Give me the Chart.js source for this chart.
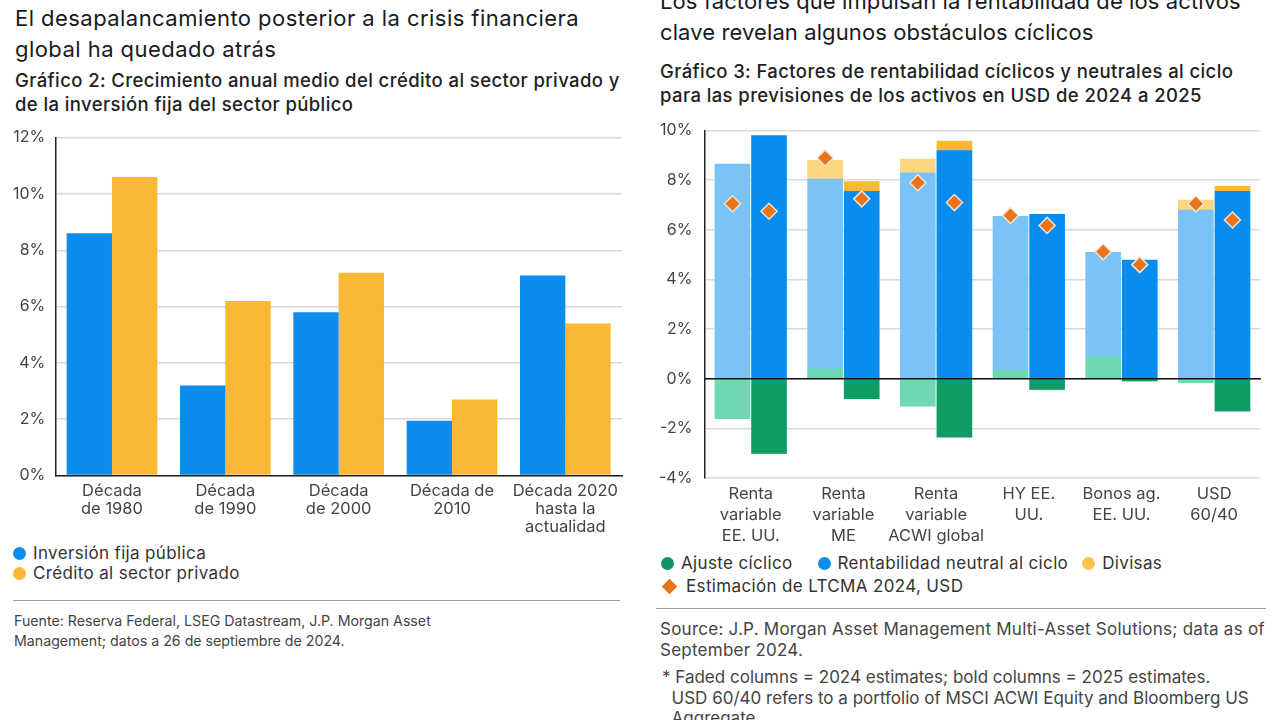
<!DOCTYPE html>
<html lang="es">
<head>
<meta charset="utf-8">
<script src="https://cdn.jsdelivr.net/npm/chart.js@4"></script>
<style>
  body { margin: 0; width: 1280px; height: 720px; overflow: hidden; background: #fff;
         font-family: Inter, sans-serif; color: #1c1c1c; position: relative; }
  .abs { position: absolute; white-space: nowrap; }
  .title { font-size: 22px; line-height: 31px; color: #1a1a1a; letter-spacing: 0.45px; }
  .sub { font-size: 18.5px; line-height: 24px; font-weight: 500; color: #222; letter-spacing: 0.4px; }
  .leg { font-size: 17px; color: #333; letter-spacing: 0.35px; }
  .dot { display: inline-block; width: 13px; height: 13px; border-radius: 50%; vertical-align: -1px; margin-right: 7px; }
  .dia { display: inline-block; width: 11px; height: 11px; transform: rotate(45deg); background: #e8731a; margin: 0 11px 0 3px; vertical-align: 0; }
  .rule { height: 0; border-top: 1.5px solid #9a9a9a; }
  .src { color: #444; }
  canvas { position: absolute; }
</style>
</head>
<body>
<div class="abs title" style="left:15px;top:3px">El desapalancamiento posterior a la crisis financiera<br>global ha quedado atrás</div>
<div class="abs sub" style="left:15px;top:68px">Gráfico 2: Crecimiento anual medio del crédito al sector privado y<br>de la inversión fija del sector público</div>

<div class="abs title" style="left:660px;top:-14px;letter-spacing:0.1px">Los factores que impulsan la rentabilidad de los activos<br>clave revelan algunos obstáculos cíclicos</div>
<div class="abs sub" style="left:660px;top:59px">Gráfico 3: Factores de rentabilidad cíclicos y neutrales al ciclo<br>para las previsiones de los activos en USD de 2024 a 2025</div>

<canvas id="c1" width="632" height="424" style="left:0;top:118px"></canvas>
<canvas id="c2" width="624" height="443" style="left:646px;top:109px"></canvas>

<div class="abs leg" style="left:13px;top:543px;line-height:20px">
  <div><span class="dot" style="background:#0b8cef"></span>Inversión fija pública</div>
  <div><span class="dot" style="background:#f9b936"></span>Crédito al sector privado</div>
</div>
<div class="abs rule" style="left:13px;top:600px;width:607px"></div>
<div class="abs src" style="left:14px;top:611px;line-height:20px;font-size:14.2px">Fuente: Reserva Federal, LSEG Datastream, J.P. Morgan Asset<br>Management; datos a 26 de septiembre de 2024.</div>

<div class="abs leg" style="left:661px;top:552px;line-height:23px">
  <div><span class="dot" style="background:#0f9563"></span>Ajuste cíclico<span class="dot" style="background:#0b8cef;margin-left:25px"></span>Rentabilidad neutral al ciclo<span class="dot" style="background:#fbc24d;margin-left:14px"></span>Divisas</div>
  <div><span class="dia"></span>Estimación de LTCMA 2024, USD</div>
</div>
<div class="abs rule" style="left:656px;top:608px;width:610px"></div>
<div class="abs src" style="left:660px;top:619px;line-height:21px;font-size:17px;letter-spacing:0.25px">Source: J.P. Morgan Asset Management Multi-Asset Solutions; data as of<br>September 2024.</div>
<div class="abs src" style="left:662px;top:667px;line-height:20.5px;font-size:17px">*&nbsp;Faded columns = 2024 estimates; bold columns = 2025 estimates.<br>&nbsp;&nbsp;USD 60/40 refers to a portfolio of MSCI ACWI Equity and Bloomberg US<br>&nbsp;&nbsp;Aggregate.</div>

<script>
// Gráfico 2: crecimiento anual medio (%)
const decades = [['Década', 'de 1980'], ['Década', 'de 1990'], ['Década', 'de 2000'], ['Década de', '2010'], ['Década 2020', 'hasta la', 'actualidad']];
const publicInv = [8.6, 3.2, 5.8, 1.95, 7.1];
const privCredit = [10.6, 6.2, 7.2, 2.7, 5.4];
const ticks2 = [0, 2, 4, 6, 8, 10, 12];

// Gráfico 3: factores de rentabilidad (%), faded = 2024, bold = 2025
const assets = [['Renta', 'variable', 'EE. UU.'], ['Renta', 'variable', 'ME'], ['Renta', 'variable', 'ACWI global'], ['HY EE.', 'UU.'], ['Bonos ag.', 'EE. UU.'], ['USD', '60/40']];
const cyc2024 = [-1.6, 0.4, -1.1, 0.35, 0.9, -0.15];
const neutral2024 = [8.65, 7.65, 8.3, 6.2, 4.2, 6.8];
const fx2024 = [0, 0.75, 0.55, 0, 0, 0.4];
const cyc2025 = [-3.0, -0.8, -2.35, -0.43, -0.08, -1.3];
const neutral2025 = [9.8, 7.55, 9.2, 6.63, 4.78, 7.55];
const fx2025 = [0, 0.4, 0.38, 0, 0, 0.2];
const ltcma2024 = [7.05, 8.9, 7.9, 6.58, 5.12, 7.05];
const ltcma2025 = [6.75, 7.25, 7.1, 6.18, 4.6, 6.4];
const ticks3 = [-4, -2, 0, 2, 4, 6, 8, 10];

Chart.defaults.font.family = 'Inter, sans-serif';
Chart.defaults.animation = false;

const pct = v => v + '%';
const noPlugins = { legend: { display: false }, tooltip: { enabled: false } };

new Chart(document.getElementById('c1'), {
  type: 'bar',
  data: { labels: decades, datasets: [
    { label: 'Inversión fija pública', data: publicInv, backgroundColor: '#0b8cef', categoryPercentage: 0.8, barPercentage: 1 },
    { label: 'Crédito al sector privado', data: privCredit, backgroundColor: '#f9b936', categoryPercentage: 0.8, barPercentage: 1 },
  ]},
  options: { responsive: false, plugins: noPlugins,
    layout: { padding: { left: 3, right: 10, top: 8 } },
    scales: {
      x: { grid: { display: false, drawTicks: false }, border: { color: '#222', width: 1.5 },
           ticks: { color: '#444', font: { size: 16.5, lineHeight: 1.1 }, maxRotation: 0, autoSkip: false, padding: 6 } },
      y: { min: ticks2[0], max: ticks2[ticks2.length - 1],
           afterBuildTicks: s => { s.ticks = ticks2.map(value => ({ value })); },
           ticks: { callback: pct, color: '#444', font: { size: 16 }, padding: 10 },
           grid: { color: '#d9d9d9', lineWidth: 1.5, drawTicks: false },
           border: { color: '#222', width: 1.5 } } } }
});

// faded (2024) column sits left of the asset's centre, bold (2025) right of it
const HALF = 0.1975;
const at = (data, shift) => data.map((y, i) => ({ x: i + shift, y }));
const bar = (label, data, shift, color, stack) => ({ type: 'bar', label, data: at(data, shift), backgroundColor: color,
  stack, grouped: false, barThickness: 35 });
const diamonds = (label, data, shift, stack) => ({ type: 'line', label, stack, order: -1, data: at(data, shift),
  showLine: false, pointStyle: 'rectRot', pointRadius: 8,
  pointBackgroundColor: '#e8731a', pointBorderColor: '#f3e4d2', pointBorderWidth: 1.5 });

new Chart(document.getElementById('c2'), {
  type: 'bar',
  data: { datasets: [
    bar('Ajuste cíclico 2024', cyc2024, -HALF, '#6fd8b3', 'e24'),
    bar('Rentabilidad neutral al ciclo 2024', neutral2024, -HALF, '#79c3f8', 'e24'),
    bar('Divisas 2024', fx2024, -HALF, '#fcd680', 'e24'),
    bar('Ajuste cíclico 2025', cyc2025, HALF, '#0f9b64', 'e25'),
    bar('Rentabilidad neutral al ciclo 2025', neutral2025, HALF, '#078cf0', 'e25'),
    bar('Divisas 2025', fx2025, HALF, '#f8b935', 'e25'),
    diamonds('Estimación de LTCMA 2024, USD', ltcma2024, -HALF, 'l24'),
    diamonds('Estimación 2025', ltcma2025, HALF, 'l25'),
  ]},
  options: { responsive: false, plugins: noPlugins,
    layout: { padding: { left: 1, right: 4, top: 8 } },
    scales: {
      x: { type: 'linear', offset: false, min: -0.5, max: assets.length - 0.5,
           afterBuildTicks: s => { s.ticks = assets.map((a, value) => ({ value })); },
           grid: { display: false, drawTicks: false, offset: false }, border: { display: false },
           ticks: { callback: v => assets[v], color: '#444', font: { size: 16.5, lineHeight: 1.25 },
                    maxRotation: 0, autoSkip: false, padding: 6 } },
      y: { stacked: true, min: ticks3[0], max: ticks3[ticks3.length - 1],
           afterBuildTicks: s => { s.ticks = ticks3.map(value => ({ value })); },
           ticks: { callback: pct, color: '#444', font: { size: 16 }, padding: 12 },
           grid: { color: '#d9d9d9', lineWidth: 1.5, drawTicks: false },
           border: { color: '#222', width: 1.5 } },
      // zero line drawn over the bars
      y0: { position: 'right', min: ticks3[0], max: ticks3[ticks3.length - 1],
            afterBuildTicks: s => { s.ticks = ticks3.map(value => ({ value })); },
            ticks: { display: false }, border: { display: false },
            grid: { z: 1, drawTicks: false, lineWidth: 1.5, color: c => c.tick.value === 0 ? '#111' : 'rgba(0,0,0,0)' } } } }
});
</script>
</body>
</html>
